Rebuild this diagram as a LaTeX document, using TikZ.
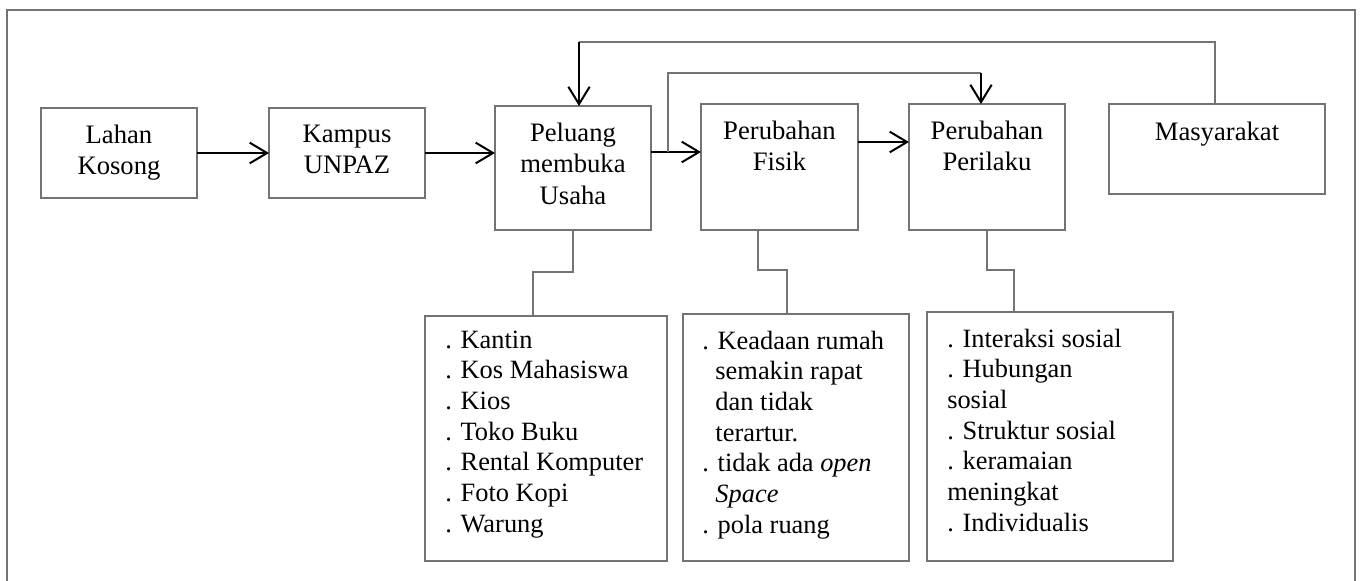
\documentclass[tikz,border=0pt]{standalone}
\usepackage{fontspec}
\setmainfont{Liberation Serif}
\usetikzlibrary{arrows.meta,calc}
\definecolor{linegray}{RGB}{115,115,115}
\begin{document}
\begin{tikzpicture}[x=0.75pt,y=-0.75pt,
  box/.style={draw=linegray,line width=0.9pt,rectangle,inner sep=0pt,outer sep=0pt},
  lbl/.style={anchor=north,inner sep=0pt,align=center,font=\fontsize{20}{23.5}\selectfont},
  lst/.style={anchor=north west,inner sep=0pt,align=left,font=\fontsize{19.8}{23}\selectfont},
  conn/.style={draw=linegray,line width=0.9pt},
  harr/.style={draw=black,line width=1.9pt,-{Straight Barb[length=13pt,width=15.5pt,line width=1.5pt]}},
  varr/.style={draw=black,line width=1.5pt,-{Straight Barb[length=13pt,width=16pt,line width=1.5pt]}},
  frame/.style={draw=linegray,line width=1.5pt}]
\useasboundingbox (0,0) rectangle (1361,581);
\begin{scope}
\clip (0,0) rectangle (1361,581);
\draw[frame] (7,10) rectangle (1355,620);
\end{scope}

% main boxes
\node[box,minimum width=117pt,minimum height=67.5pt] (lahan) at (119,153) {};
\node[box,minimum width=117pt,minimum height=67.5pt] (kampus) at (347,153) {};
\node[box,minimum width=117pt,minimum height=93pt] (peluang) at (573,168) {};
\node[box,minimum width=117.75pt,minimum height=94.5pt] (fisik) at (779.5,167) {};
\node[box,minimum width=117pt,minimum height=94.5pt] (perilaku) at (987,167) {};
\node[box,minimum width=162pt,minimum height=67.5pt] (masy) at (1217,149) {};

% list boxes
\node[box,minimum width=181.5pt,minimum height=183.75pt] (l1) at (546,438.5) {};
\node[box,minimum width=169.5pt,minimum height=185.25pt] (l2) at (796,437.5) {};
\node[box,minimum width=184.5pt,minimum height=186.75pt] (l3) at (1050,436.5) {};

% labels
\node[lbl] (tlahan) at ([yshift=-12.5pt]lahan.north) {Lahan\\Kosong};
\node[lbl] (tkampus) at ([yshift=-12.5pt]kampus.north) {Kampus\\UNPAZ};
\node[lbl] (tpeluang) at ([yshift=-12.5pt]peluang.north) {Peluang\\membuka\\Usaha};
\node[lbl] (tfisik) at ([yshift=-12.5pt]fisik.north) {Perubahan\\Fisik};
\node[lbl] (tperilaku) at ([yshift=-12.5pt]perilaku.north) {Perubahan\\Perilaku};
\node[lbl] (tmasy) at ([yshift=-13.2pt]masy.north) {Masyarakat};

\node[lst] (tl1) at ([shift={(20,14.5)}]l1.north west)
  {. Kantin\\. Kos Mahasiswa\\. Kios\\. Toko Buku\\. Rental Komputer\\. Foto Kopi\\. Warung};
\node[lst] (tl2) at ([shift={(19,16.5)}]l2.north west)
  {. Keadaan rumah\\\phantom{.\ }semakin rapat\\\phantom{.\ }dan tidak\\\phantom{.\ }terartur.\\. tidak ada \textit{open}\\\phantom{.\ }\textit{Space}\\. pola ruang};
\node[lst] (tl3) at ([shift={(20,16.5)}]l3.north west)
  {. Interaksi sosial\\. Hubungan\\sosial\\. Struktur sosial\\. keramaian\\meningkat\\. Individualis};

% horizontal arrows
\draw[harr] (lahan.east) -- (kampus.west);
\draw[harr] (kampus.east) -- (kampus.east -| peluang.west);
\draw[harr] ([yshift=12pt]peluang.east) -- ([yshift=12pt]peluang.east -| fisik.west);
\draw[harr] ([yshift=18.75pt]fisik.east) -- ([yshift=18.75pt]fisik.east -| perilaku.west);

% feedback lines
\coordinate (t1) at (579,42);
\coordinate (t2) at (1215,42);
\coordinate (j) at (668,152);
\coordinate (t3) at (668,73);
\coordinate (t4) at (981,73);
\draw[conn] (t2 |- masy.north) -- (t2) -- (t1);
\draw[varr] (t1) -- (t1 |- peluang.north);
\draw[conn] (j) -- (t3) -- (t4);
\draw[varr] (t4) -- (t4 |- perilaku.north);

% lower connectors
\draw[conn] (peluang.south) -- ++(0,42) -| ([xshift=-9.75pt]l1.north);
\draw[conn] ([xshift=-16.1pt]fisik.south) -- ++(0,40) -| ([xshift=-6.75pt]l2.north);
\draw[conn] (perilaku.south) -- ++(0,40) -| ([xshift=-27pt]l3.north);
\end{tikzpicture}
\end{document}
